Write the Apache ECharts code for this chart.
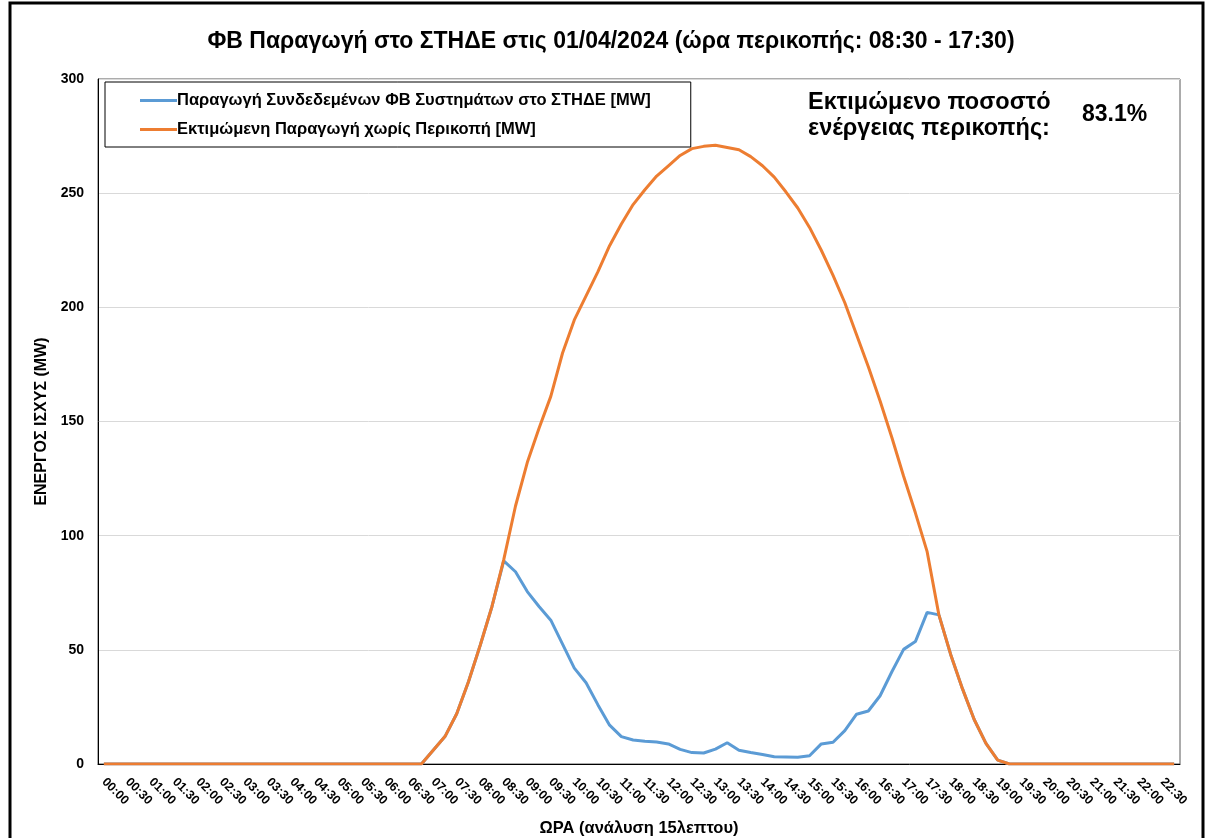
<!DOCTYPE html>
<html>
<head>
<meta charset="utf-8">
<script src="https://cdn.jsdelivr.net/npm/echarts@6/dist/echarts.min.js"></script>
<style>
html,body{margin:0;padding:0;background:#fff;}
#chart{width:1207px;height:838px;}
</style>
</head>
<body>
<div id="chart"></div>
<script>
const categories = [
"00:00","00:15","00:30","00:45","01:00","01:15","01:30","01:45",
"02:00","02:15","02:30","02:45","03:00","03:15","03:30","03:45",
"04:00","04:15","04:30","04:45","05:00","05:15","05:30","05:45",
"06:00","06:15","06:30","06:45","07:00","07:15","07:30","07:45",
"08:00","08:15","08:30","08:45","09:00","09:15","09:30","09:45",
"10:00","10:15","10:30","10:45","11:00","11:15","11:30","11:45",
"12:00","12:15","12:30","12:45","13:00","13:15","13:30","13:45",
"14:00","14:15","14:30","14:45","15:00","15:15","15:30","15:45",
"16:00","16:15","16:30","16:45","17:00","17:15","17:30","17:45",
"18:00","18:15","18:30","18:45","19:00","19:15","19:30","19:45",
"20:00","20:15","20:30","20:45","21:00","21:15","21:30","21:45",
"22:00","22:15","22:30","22:45"
];

const actualPV = [
0,0,0,0,0,0,0,0, 0,0,0,0,0,0,0,0, 0,0,0,0,0,0,0,0,
0,0,0,0,6,12,22,36, 52,69,89,84.2,75.5,69,63,52.5,
42,35.6,26,17,12,10.5,10,9.6, 8.8,6.4,5,4.8,6.5,9.3,6,5,
4.2,3.2,3.1,3.0,3.6,8.8,9.5,14.6, 21.8,23.2,29.9,40.4,50.2,53.6,66.4,65.3,
48,33,19.5,9,1.7,0,0,0, 0,0,0,0,0,0,0,0,
0,0,0,0
];

const estimatedPV = [
0,0,0,0,0,0,0,0, 0,0,0,0,0,0,0,0, 0,0,0,0,0,0,0,0,
0,0,0,0,6,12,22,36, 52,69,89.5,113,132,147,161,180,
194.5,205,215.5,227,236.5,245,251.5,257.5, 262,266.5,269.5,270.5,271,270,269,266,
262,257,250.5,243.5,235,225,214,202, 188,174,159,143,126,110,93,65.3,
48,33,19.5,9,1.7,0,0,0, 0,0,0,0,0,0,0,0,
0,0,0,0
];

const yTicks = [0,50,100,150,200,250,300];
const seriesNames = ["Παραγωγή Συνδεδεμένων ΦΒ Συστημάτων στο ΣΤΗΔΕ [MW]", "Εκτιμώμενη Παραγωγή χωρίς Περικοπή [MW]"];
const titleText = "ΦΒ Παραγωγή στο ΣΤΗΔΕ στις 01/04/2024 (ώρα περικοπής: 08:30 - 17:30)";
const curtailLabel = ["Εκτιμώμενο ποσοστό", "ενέργειας περικοπής:"];
const curtailValue = "83.1%";

const chart = echarts.init(document.getElementById('chart'), null, {renderer:'canvas'});
const F = 'Arial, "Liberation Sans", sans-serif';
chart.setOption({
  animation:false,
  backgroundColor:'#fff',
  grid:{left:98, top:79, width:1082, height:685, show:true, borderColor:'#595959', borderWidth:1,
        containLabel:false, outerBoundsMode:'none'},
  legend:{
    orient:'vertical', left:105, top:82,
    padding:[10,40,9,35], itemGap:12,
    itemWidth:37, itemHeight:3, icon:'rect',
    borderColor:'#000', borderWidth:1, backgroundColor:'#fff',
    textStyle:{fontFamily:F, fontWeight:'bold', fontSize:16.5, color:'#000', padding:[0,0,0,-5]},
    data:seriesNames
  },
  xAxis:{
    type:'category', data:categories, boundaryGap:true,
    axisLine:{show:true, lineStyle:{color:'#000', width:1}},
    axisTick:{show:false},
    axisLabel:{interval:1, rotate:-45, margin:16, fontFamily:F, fontWeight:'bold', fontSize:12.5, color:'#000'},
    name:'ΩΡΑ (ανάλυση 15λεπτου)', nameLocation:'middle', nameGap:56,
    nameTextStyle:{fontFamily:F, fontWeight:'bold', fontSize:16.5, color:'#000'},
    splitLine:{show:false}
  },
  yAxis:{
    type:'value', min:yTicks[0], max:yTicks[yTicks.length-1], interval:50,
    axisLine:{show:true, lineStyle:{color:'#000', width:1}},
    axisTick:{show:false},
    axisLabel:{margin:14, fontFamily:F, fontWeight:'bold', fontSize:14, color:'#000'},
    splitLine:{show:true, lineStyle:{color:'#d9d9d9', width:1}},
    name:'ΕΝΕΡΓΟΣ ΙΣΧΥΣ (MW)', nameLocation:'middle', nameGap:41, nameRotate:90,
    nameTextStyle:{fontFamily:F, fontWeight:'bold', fontSize:16, color:'#000'}
  },
  series:[
    {name:seriesNames[0], type:'line', data:actualPV, showSymbol:false, symbol:'none',
     lineStyle:{color:'#5B9BD5', width:3}, itemStyle:{color:'#5B9BD5'}, z:2},
    {name:seriesNames[1], type:'line', data:estimatedPV, showSymbol:false, symbol:'none',
     lineStyle:{color:'#ED7D31', width:3}, itemStyle:{color:'#ED7D31'}, z:3}
  ],
  graphic:[
    {type:'rect', shape:{x:10, y:3, width:1193, height:860}, style:{fill:null, stroke:'#000', lineWidth:3}, silent:true, z:100},
    {type:'text', x:611, y:42, style:{text:titleText, font:'bold 23px '+F, fill:'#000', textAlign:'center', textVerticalAlign:'middle'}},
    {type:'text', x:808, y:103, style:{text:curtailLabel[0], font:'bold 23.5px '+F, fill:'#000', textAlign:'left', textVerticalAlign:'middle'}},
    {type:'text', x:808, y:129, style:{text:curtailLabel[1], font:'bold 23.5px '+F, fill:'#000', textAlign:'left', textVerticalAlign:'middle'}},
    {type:'text', x:1082, y:115, style:{text:curtailValue, font:'bold 23px '+F, fill:'#000', textAlign:'left', textVerticalAlign:'middle'}}
  ]
});
</script>
</body>
</html>
